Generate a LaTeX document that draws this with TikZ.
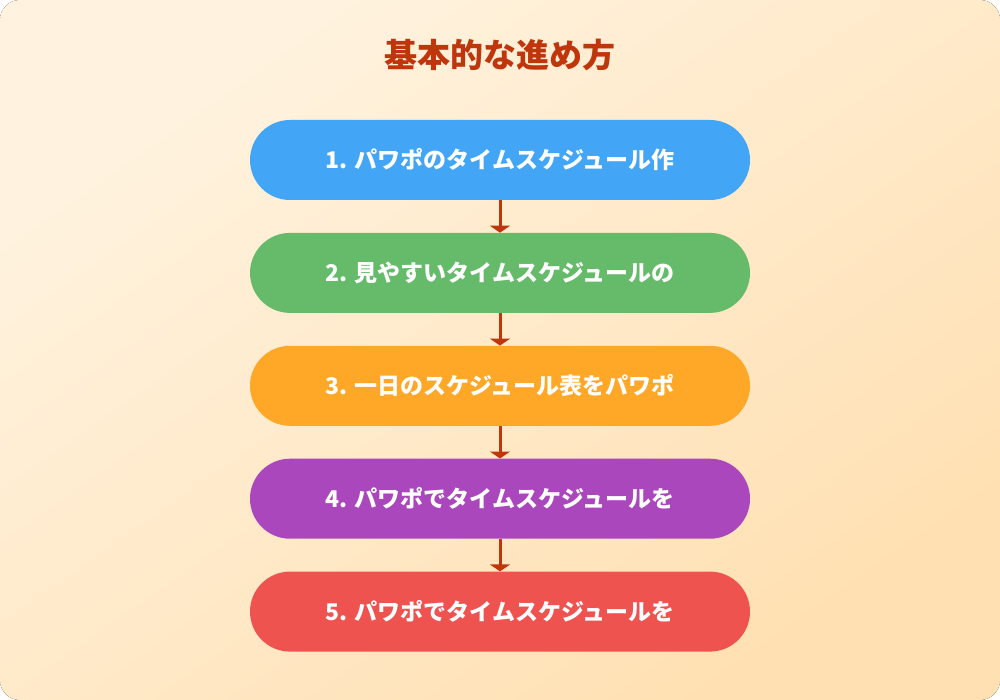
\documentclass[tikz,border=0pt]{standalone}
\usepackage{fontspec}
\setmainfont{Noto Sans CJK JP}
\usepackage{xcolor}
\definecolor{mybgone}{HTML}{FFF3E0}
\definecolor{mybgtwo}{HTML}{FFE0B2}
\definecolor{myrust}{HTML}{BF360C}
\definecolor{myblue}{HTML}{42A5F5}
\definecolor{mygreen}{HTML}{66BB6A}
\definecolor{myorange}{HTML}{FFA726}
\definecolor{mypurple}{HTML}{AB47BC}
\definecolor{myred}{HTML}{EF5350}
\usetikzlibrary{arrows.meta,positioning}

\begin{document}
\begin{tikzpicture}[
  x=1pt, y=-1pt,
  node distance=32.5pt,
  mystep/.style={
    rectangle,
    rounded corners=40pt,
    minimum width=500pt,
    minimum height=80pt,
    text=white,
    font=\bfseries\fontsize{23}{27}\selectfont
    },
  myarrow/.style={
    draw=myrust,
    line width=3pt,
    -{Triangle[width=20pt,length=7pt]}
    }
]
\useasboundingbox (0,0) rectangle (1000,700);
\fill[rounded corners=20pt, left color=mybgone, right color=mybgtwo, shading angle=35]
  (0,0) rectangle (1000,700);

\node [text=myrust, font=\bfseries\fontsize{33}{37}\selectfont] (title) at (500,55) {基本的な進め方};

\node [mystep, fill=myblue] (s1) at (500,160) {1. パワポのタイムスケジュール作};
\node [mystep, fill=mygreen, below=of s1] (s2) {2. 見やすいタイムスケジュールの};
\node [mystep, fill=myorange, below=of s2] (s3) {3. 一日のスケジュール表をパワポ};
\node [mystep, fill=mypurple, below=of s3] (s4) {4. パワポでタイムスケジュールを};
\node [mystep, fill=myred, below=of s4] (s5) {5. パワポでタイムスケジュールを};

\draw [myarrow] (s1) -- (s2);
\draw [myarrow] (s2) -- (s3);
\draw [myarrow] (s3) -- (s4);
\draw [myarrow] (s4) -- (s5);

\end{tikzpicture}
\end{document}
